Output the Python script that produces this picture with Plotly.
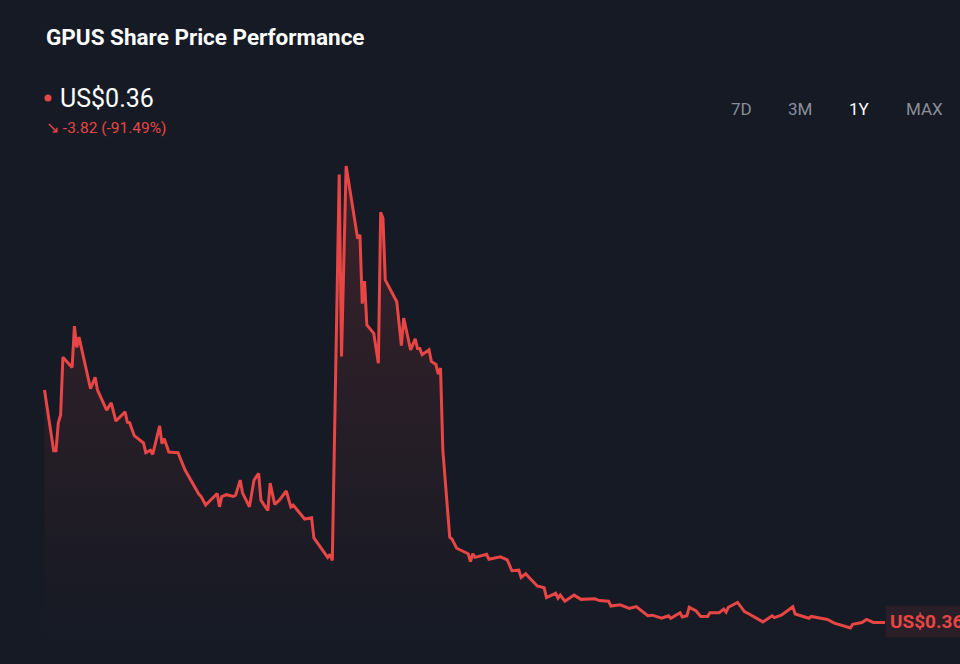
import plotly.graph_objects as go

# trading-day offsets (calendar days from the start of the 1Y window) and close prices, US$
days = [0, 4, 5, 6, 7, 8, 12, 13, 14, 15, 20, 22, 23, 27, 29, 31, 35, 36, 37, 39,
        43, 44, 46, 47, 50, 51, 52, 54, 58, 61, 67, 68, 70, 75, 76, 77, 79, 82, 83, 85,
        86, 89, 91, 93, 94, 97, 98, 99, 100, 102, 105, 107, 108, 113, 116, 117, 121, 123, 124, 125,
        128, 129, 131, 136, 137, 138, 139, 140, 143, 145, 146, 147, 148, 153, 155, 156, 159, 161, 162, 163,
        164, 167, 168, 170, 171, 172, 173, 175, 176, 177, 179, 184, 185, 186, 187, 192, 193, 198, 201, 203,
        206, 207, 209, 211, 214, 217, 218, 222, 223, 224, 226, 230, 233, 239, 241, 245, 246, 250, 254, 257,
        262, 264, 268, 271, 272, 276, 277, 279, 280, 283, 285, 288, 289, 293, 295, 296, 297, 301, 304, 306,
        312, 316, 317, 320, 325, 326, 329, 332, 333, 340, 343, 347, 350, 351, 355, 357, 360, 365]
prices = [4.18, 3.18, 3.18, 3.64, 3.77, 4.72, 4.55, 5.23, 4.88, 5.05, 4.20, 4.39, 4.18, 3.85, 3.97, 3.67, 3.82, 3.65, 3.64, 3.43,
          3.31, 3.15, 3.19, 3.12, 3.59, 3.30, 3.38, 3.16, 3.15, 2.87, 2.47, 2.43, 2.29, 2.48, 2.26, 2.43, 2.46, 2.43, 2.45, 2.70,
          2.49, 2.26, 2.70, 2.81, 2.37, 2.20, 2.65, 2.50, 2.30, 2.37, 2.52, 2.26, 2.29, 2.06, 2.08, 1.75, 1.55, 1.43, 1.48, 1.38,
          7.72, 4.73, 7.86, 6.67, 6.73, 5.60, 5.97, 5.25, 5.11, 4.62, 7.10, 7.00, 5.99, 5.63, 4.91, 5.36, 4.84, 5.02, 4.86, 4.86,
          4.76, 4.84, 4.65, 4.60, 4.44, 4.54, 3.19, 2.21, 1.76, 1.73, 1.58, 1.49, 1.36, 1.49, 1.43, 1.48, 1.40, 1.44, 1.39, 1.21,
          1.22, 1.10, 1.16, 1.08, 0.96, 0.93, 0.77, 0.84, 0.76, 0.81, 0.71, 0.81, 0.74, 0.75, 0.72, 0.71, 0.63, 0.65, 0.59, 0.62,
          0.47, 0.48, 0.43, 0.47, 0.43, 0.52, 0.45, 0.47, 0.61, 0.55, 0.46, 0.46, 0.52, 0.52, 0.58, 0.53, 0.61, 0.69, 0.54, 0.50,
          0.37, 0.47, 0.44, 0.48, 0.62, 0.50, 0.46, 0.43, 0.46, 0.41, 0.35, 0.30, 0.27, 0.33, 0.36, 0.41, 0.36, 0.36]

ticker = "GPUS"
last_price = "US$0.36"
change_text = "↘ -3.82 (-91.49%)"
periods = ["7D", "3M", "1Y", "MAX"]
active_period = "1Y"

BG = "#151a24"
RED = "#e84545"
W, H = 960, 664


def px(x):
    return x / W


def py(y):
    return 1 - y / H


fig = go.Figure()
fig.add_trace(go.Scatter(
    x=days, y=prices, mode="lines",
    line=dict(color=RED, width=3),
    fill="tozeroy",
    fillgradient=dict(type="vertical", start=0, stop=8,
                      colorscale=[[0, "rgba(232,69,69,0)"], [1, "rgba(232,69,69,0.18)"]]),
    hoverinfo="skip", showlegend=False,
))

annotations = [
    dict(x=px(44), y=py(37), text=f"<b>{ticker} Share Price Performance</b>",
         font=dict(size=22.5, color="#ffffff", family="Roboto")),
    dict(x=px(58), y=py(98), text=last_price,
         font=dict(size=25, color="#ffffff", family="Roboto")),
    dict(x=px(44), y=py(128), text=change_text,
         font=dict(size=15.5, color=RED, family="Roboto")),
]
for name, cx in zip(periods, [741, 800, 859, 924]):
    annotations.append(dict(
        x=px(cx), y=py(109), text=name, xanchor="center",
        font=dict(size=17, family="Roboto",
                  color="#ffffff" if name == active_period else "#8a8f99")))
annotations.append(dict(
    x=px(885), y=py(621), text=f"<b>{last_price}</b>",
    font=dict(size=19, color=RED, family="Roboto"),
    bgcolor="rgba(232,69,69,0.10)", borderpad=4))
for a in annotations:
    a.update(xref="paper", yref="paper", showarrow=False, yanchor="middle")
    a.setdefault("xanchor", "left")

fig.update_layout(
    width=W, height=H,
    margin=dict(l=0, r=0, t=0, b=0),
    paper_bgcolor=BG, plot_bgcolor=BG,
    xaxis=dict(visible=False, range=[-19.32, 397.6], fixedrange=True),
    yaxis=dict(visible=False, range=[-0.322, 10.588], fixedrange=True),
    annotations=annotations,
    shapes=[dict(type="circle", xref="paper", yref="paper",
                 x0=px(44.5), x1=px(51.5), y0=py(101.5), y1=py(94.5),
                 fillcolor=RED, line=dict(width=0))],
)

# drop the default page margin so the figure fills the window
fig.write_html("out.html", config={"displayModeBar": False},
               post_script="document.body.style.margin='0';"
                           "document.body.style.background='%s';" % BG)
